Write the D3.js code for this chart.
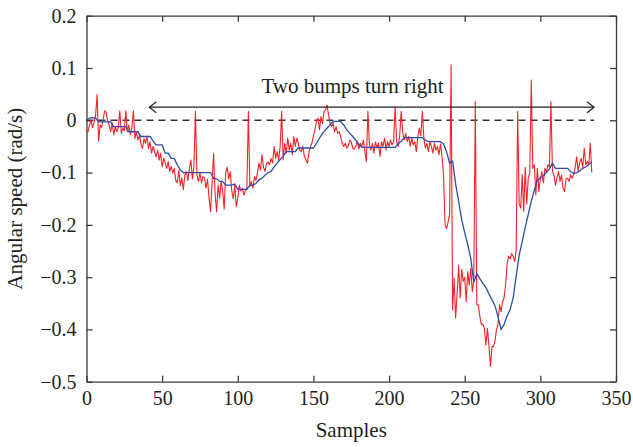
<!DOCTYPE html>
<html>
<head>
<meta charset="utf-8">
<script src="https://cdn.jsdelivr.net/npm/d3@7"></script>
<style>
    body { margin: 0; background: #fff; }
    svg text { font-family: 'Liberation Serif', 'DejaVu Serif', serif; fill: #231f20; }
</style>
</head>
<body>
<svg id="chart" width="633" height="447"></svg>
<script>
// DATA (angular speed in rad/s, one value per sample)
const measuredSpeed = [
    -0.02, -0.022, -0.009, 0.0, -0.014, -0.004, 0.009, 0.049, -0.04, -0.009,
    -0.014, 0.002, 0.018, 0.015, -0.001, -0.009, -0.022, -0.005, -0.028, -0.012,
    -0.022, -0.015, 0.018, -0.025, -0.015, -0.02, 0.018, -0.022, -0.009, -0.028,
    -0.015, 0.018, -0.035, -0.022, -0.038, -0.028, -0.045, -0.054, -0.035, -0.044,
    -0.031, -0.054, -0.041, -0.063, -0.05, -0.06, -0.07, -0.057, -0.076, -0.063,
    -0.089, -0.073, -0.082, -0.092, -0.079, -0.098, -0.088, -0.101, -0.092, -0.115,
    -0.12, -0.095, -0.125, -0.11, -0.133, -0.105, -0.098, -0.115, -0.092, -0.076,
    -0.112, -0.089, 0.017, -0.105, -0.117, -0.1, -0.12, -0.108, -0.11, -0.13,
    -0.113, -0.149, -0.175, -0.12, -0.063, -0.14, -0.175, -0.124, -0.149, -0.117,
    -0.135, -0.17, -0.1, -0.09, -0.112, -0.098, -0.135, -0.15, -0.124, -0.165,
    -0.149, -0.124, -0.135, -0.13, -0.143, -0.135, -0.13, 0.017, -0.127, -0.117,
    -0.13, -0.108, -0.115, -0.1, -0.082, -0.095, -0.066, -0.09, -0.098, -0.082,
    -0.08, -0.085, -0.073, -0.082, -0.05, -0.073, -0.06, -0.076, -0.05, 0.017,
    -0.076, -0.044, -0.063, -0.034, -0.057, -0.044, -0.066, -0.031, -0.05, -0.034,
    -0.044, -0.057, -0.06, -0.05, -0.069, -0.075, -0.082, -0.063, -0.05, -0.044,
    -0.03, -0.018, -0.002, 0.004, -0.018, 0.007, -0.006, 0.017, 0.02, 0.029,
    0.01, -0.005, -0.012, -0.006, -0.022, -0.012, -0.025, -0.022, -0.031, -0.044,
    -0.05, -0.044, -0.053, -0.05, -0.038, -0.041, -0.054, -0.055, -0.05, -0.04,
    -0.055, -0.044, -0.05, -0.038, -0.06, -0.079, 0.017, -0.047, -0.057, -0.044,
    -0.063, -0.041, -0.053, -0.044, -0.069, -0.041, -0.05, -0.034, -0.057, -0.041,
    -0.05, -0.038, -0.047, -0.04, 0.026, -0.041, -0.05, -0.03, 0.017, -0.022,
    -0.038, -0.025, -0.041, -0.031, -0.05, -0.034, -0.047, -0.041, -0.06, -0.031,
    -0.015, -0.03, 0.017, -0.034, -0.053, -0.044, -0.06, -0.041, -0.05, -0.063,
    -0.044, -0.057, -0.05, -0.066, -0.045, -0.07, -0.104, -0.2, -0.207, -0.195,
    -0.18, 0.106, -0.363, -0.302, -0.378, -0.33, -0.277, -0.34, -0.285, -0.308,
    -0.3, -0.347, -0.29, -0.315, -0.283, -0.328, -0.305, 0.036, -0.353, -0.353,
    -0.375, -0.391, -0.39, -0.398, -0.43, -0.398, -0.43, -0.471, -0.433, -0.433,
    -0.423, -0.4, -0.391, -0.353, -0.366, -0.347, -0.34, -0.315, -0.275, -0.26,
    -0.265, -0.255, -0.26, -0.27, -0.25, 0.017, -0.16, -0.168, -0.104, -0.174,
    -0.09, -0.16, -0.111, -0.1, 0.077, -0.092, -0.085, -0.143, -0.092, -0.136,
    -0.111, -0.098, -0.12, -0.092, -0.098, -0.085, -0.09, 0.036, -0.098, -0.105,
    -0.124, -0.11, -0.098, -0.117, -0.105, -0.13, -0.136, -0.111, -0.111, -0.117,
    -0.104, -0.111, -0.104, -0.09, -0.07, -0.098, -0.08, -0.073, -0.09, -0.053,
    -0.085, -0.079, -0.085, -0.044, -0.1
];

// smoothed speed, one value every 2 samples
const smoothStep = 2;
const smoothedSpeed = [
    0, 0.004, 0.005, 0.004, -0.003, -0.003, -0.003, -0.003, -0.003, -0.012,
    -0.012, -0.012, -0.012, -0.012, -0.022, -0.022, -0.022, -0.022, -0.031, -0.031,
    -0.031, -0.031, -0.04, -0.047, -0.047, -0.047, -0.063, -0.063, -0.073, -0.073,
    -0.085, -0.095, -0.1, -0.1, -0.1, -0.1, -0.1, -0.1, -0.1, -0.1,
    -0.1, -0.1, -0.111, -0.112, -0.117, -0.117, -0.124, -0.124, -0.124, -0.122,
    -0.132, -0.132, -0.132, -0.132, -0.124, -0.124, -0.121, -0.114, -0.111, -0.105,
    -0.1, -0.098, -0.089, -0.082, -0.075, -0.069, -0.06, -0.06, -0.06, -0.06,
    -0.053, -0.053, -0.053, -0.053, -0.053, -0.053, -0.044, -0.034, -0.025, -0.018,
    -0.012, -0.005, -0.002, -0.002, -0.002, -0.009, -0.018, -0.025, -0.031, -0.038,
    -0.046, -0.052, -0.052, -0.052, -0.052, -0.052, -0.052, -0.052, -0.052, -0.052,
    -0.052, -0.052, -0.052, -0.045, -0.04, -0.033, -0.033, -0.033, -0.033, -0.033,
    -0.033, -0.033, -0.038, -0.041, -0.041, -0.041, -0.041, -0.041, -0.045, -0.06,
    -0.082, -0.078, -0.122, -0.155, -0.19, -0.215, -0.238, -0.264, -0.31, -0.293,
    -0.303, -0.312, -0.32, -0.332, -0.343, -0.355, -0.375, -0.4, -0.391, -0.374,
    -0.362, -0.34, -0.298, -0.258, -0.232, -0.205, -0.18, -0.155, -0.134, -0.115,
    -0.11, -0.106, -0.1, -0.093, -0.082, -0.092, -0.092, -0.092, -0.092, -0.092,
    -0.098, -0.102, -0.1, -0.097, -0.092, -0.089, -0.085, -0.08
];

const xTicks = [0, 50, 100, 150, 200, 250, 300, 350];
const yTicks = [0.2, 0.1, 0, -0.1, -0.2, -0.3, -0.4, -0.5];
const annotationText = 'Two bumps turn right';
const arrowSamples = [41.5, 335.5];
const arrowLevel = 0.025;
const referenceSamples = [0, 335.5];

class SpeedChart {
    constructor(parentElement) {
        this.parentElement = parentElement;
        this.initVis();
    }

    initVis() {
        let vis = this;

        // SVG
        vis.svg = d3.select(vis.parentElement);

        // MARGINS
        vis.margin = { top: 15.7, right: 17, bottom: 65.3, left: 86.5 };
        vis.width = +vis.svg.attr('width') - vis.margin.left - vis.margin.right;
        vis.height = +vis.svg.attr('height') - vis.margin.top - vis.margin.bottom;

        // G
        vis.g = vis.svg
            .append('g')
            .attr('transform', `translate(${vis.margin.left},${vis.margin.top})`);

        // SCALES
        vis.x = d3.scaleLinear().domain([0, 350]).range([0, vis.width]);
        vis.y = d3.scaleLinear().domain([-0.5, 0.2]).range([vis.height, 0]);

        // AXES (inward ticks, closed box)
        const fmt = d3.format('~g');
        vis.g.append('g')
            .attr('class', 'axis')
            .attr('transform', `translate(0,${vis.height})`)
            .call(d3.axisBottom(vis.x).tickValues(xTicks).tickSizeInner(-6).tickSizeOuter(0).tickPadding(9));
        vis.g.append('g')
            .attr('class', 'axis')
            .call(d3.axisTop(vis.x).tickValues(xTicks).tickSizeInner(-6).tickSizeOuter(0).tickFormat(''));
        vis.g.append('g')
            .attr('class', 'axis')
            .call(d3.axisLeft(vis.y).tickValues(yTicks).tickFormat(fmt).tickSizeInner(-6).tickSizeOuter(0).tickPadding(10));
        vis.g.append('g')
            .attr('class', 'axis')
            .attr('transform', `translate(${vis.width},0)`)
            .call(d3.axisRight(vis.y).tickValues(yTicks).tickSizeInner(-6).tickSizeOuter(0).tickFormat(''));

        vis.g.selectAll('.axis path, .axis line')
            .attr('stroke', '#3a3a3a')
            .attr('stroke-width', 1.3);
        vis.g.selectAll('.axis text')
            .attr('font-family', null)
            .attr('font-size', 20)
            .attr('fill', '#231f20');

        // AXIS LABELS
        vis.svg.append('text')
            .attr('x', vis.margin.left + vis.width / 2)
            .attr('y', 437)
            .attr('text-anchor', 'middle')
            .attr('font-size', 21)
            .text('Samples');
        vis.svg.append('text')
            .attr('transform', 'rotate(-90)')
            .attr('x', -(vis.margin.top + vis.height / 2))
            .attr('y', 22)
            .attr('text-anchor', 'middle')
            .attr('font-size', 21)
            .text('Angular speed (rad/s)');

        this.updateVis();
    }

    updateVis() {
        let vis = this;

        // ZERO REFERENCE
        vis.g.append('line')
            .attr('x1', vis.x(referenceSamples[0]))
            .attr('x2', vis.x(referenceSamples[1]))
            .attr('y1', vis.y(0))
            .attr('y2', vis.y(0))
            .attr('stroke', '#333')
            .attr('stroke-width', 1.3)
            .attr('stroke-dasharray', '7,5');

        // LINES
        const redLine = d3.line()
            .x((d, i) => vis.x(i))
            .y(d => vis.y(d));
        const blueLine = d3.line()
            .x((d, i) => vis.x(i * smoothStep))
            .y(d => vis.y(d));

        vis.g.append('path')
            .datum(measuredSpeed)
            .attr('d', redLine)
            .attr('fill', 'none')
            .attr('stroke', '#f2232a')
            .attr('stroke-width', 1.1)
            .attr('stroke-linejoin', 'round');

        vis.g.append('path')
            .datum(smoothedSpeed)
            .attr('d', blueLine)
            .attr('fill', 'none')
            .attr('stroke', '#2f4ba5')
            .attr('stroke-width', 1.3);

        // ANNOTATION ARROW
        const ay = vis.y(arrowLevel);
        const ax0 = vis.x(arrowSamples[0]);
        const ax1 = vis.x(arrowSamples[1]);
        const arrow = vis.g.append('g')
            .attr('fill', 'none')
            .attr('stroke', '#231f20')
            .attr('stroke-width', 1.2);
        arrow.append('line').attr('x1', ax0).attr('x2', ax1).attr('y1', ay).attr('y2', ay);
        arrow.append('path').attr('d', `M${ax0 + 7},${ay - 5.5}L${ax0},${ay}L${ax0 + 7},${ay + 5.5}`);
        arrow.append('path').attr('d', `M${ax1 - 7},${ay - 5.5}L${ax1},${ay}L${ax1 - 7},${ay + 5.5}`);

        vis.g.append('text')
            .attr('x', vis.x(115.6))
            .attr('y', vis.y(0.0516))
            .attr('font-size', 21)
            .text(annotationText);
    }
}

new SpeedChart('#chart');
</script>
</body>
</html>
